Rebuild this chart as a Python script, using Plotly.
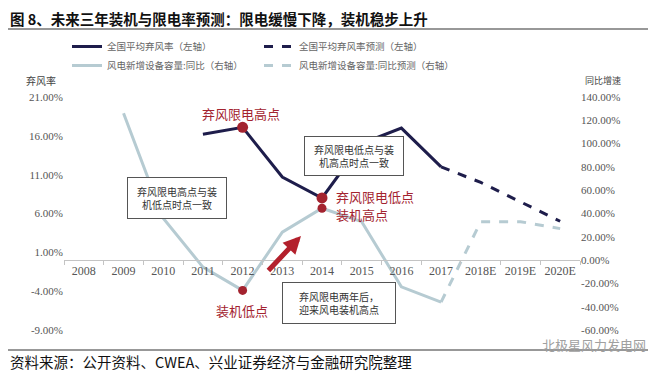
import plotly.graph_objects as go

categories = ['2008', '2009', '2010', '2011', '2012', '2013', '2014', '2015',
              '2016', '2017', '2018E', '2019E', '2020E']
curtail_actual = [None, None, None, 16.2, 17.1, 10.7, 8.0, 15.0, 17.0, 12.0, None, None, None]
curtail_fcst = [None, None, None, None, None, None, None, None, None, 12.0, 10.0, 7.5, 5.0]
growth_actual = [None, 126, 36, -6, -26, 24, 44.5, 33, -23, -36, None, None, None]
growth_fcst = [None, None, None, None, None, None, None, None, None, -36, 33, 33, 27]
left_ticks = [-9, -4, 1, 6, 11, 16, 21]
right_ticks = [-60, -40, -20, 0, 20, 40, 60, 80, 100, 120, 140]
key_years = ['2012', '2014']

# page body has an 8px margin: figure is drawn 8px right/down of window origin
OFF = 8
W, H = 656 - OFF, 375 - OFF
# plot area in window pixel coordinates
L, R, T, B = 64, 580, 97, 330
def px(x):
    return (x - L) / (R - L)
def py(y):
    return (B - y) / (B - T)

DARK = '#1e1d4b'
LIGHT = '#b6cbd2'
RED = '#a3232f'
CJK = 'Noto Sans CJK SC'
SERIF = 'Liberation Serif'

fig = go.Figure()
fig.add_trace(go.Scatter(x=categories, y=curtail_actual, mode='lines', name='全国平均弃风率（左轴）',
                         line=dict(color=DARK, width=3), legend='legend'))
fig.add_trace(go.Scatter(x=categories, y=growth_actual, mode='lines', name='风电新增设备容量:同比（右轴）',
                         line=dict(color=LIGHT, width=3), yaxis='y2', legend='legend'))
fig.add_trace(go.Scatter(x=categories, y=curtail_fcst, mode='lines', name='全国平均弃风率预测（左轴）',
                         line=dict(color=DARK, width=3, dash='dash'), legend='legend2'))
fig.add_trace(go.Scatter(x=categories, y=growth_fcst, mode='lines', name='风电新增设备容量:同比预测（右轴）',
                         line=dict(color=LIGHT, width=3, dash='dash'), yaxis='y2', legend='legend2'))

idx = [categories.index(k) for k in key_years]
fig.add_trace(go.Scatter(x=key_years, y=[curtail_actual[i] for i in idx], mode='markers',
                         marker=dict(color=RED, size=11), showlegend=False))
fig.add_trace(go.Scatter(x=key_years, y=[growth_actual[i] for i in idx], mode='markers',
                         marker=dict(color=RED, size=9), yaxis='y2', showlegend=False))

shapes = [
    dict(type='line', xref='x', yref='paper', x0='2012', x1='2012', y0=py(290), y1=py(128),
         line=dict(color=RED, width=1.5, dash='dash'), layer='below'),
    dict(type='line', xref='x', yref='paper', x0='2014', x1='2014', y0=py(260), y1=py(127),
         line=dict(color=RED, width=1.5, dash='dash'), layer='below'),
    dict(type='line', xref='paper', yref='paper', x0=px(0), x1=px(660), y0=py(29), y1=py(29),
         line=dict(color='#333333', width=1.2)),
    dict(type='line', xref='paper', yref='paper', x0=px(0), x1=px(660), y0=py(350), y1=py(350),
         line=dict(color='#333333', width=1.2)),
]

def txt(x, y, text, size, color, xanchor='center', **kw):
    d = dict(xref='paper', yref='paper', x=px(x), y=py(y), text=text, showarrow=False,
             xanchor=xanchor, yanchor='middle', font=dict(family=CJK, size=size, color=color))
    d.update(kw)
    return d

def box(x, y, w, h, text):
    return txt(x, y, text, 10, '#333333', width=w, height=h, bgcolor='white',
               bordercolor='#555555', borderwidth=1, align='center')

annotations = [
    box(177, 198, 96, 38, '弃风限电高点与装<br>机低点时点一致'),
    box(354, 156, 96, 36, '弃风限电低点与装<br>机高点时点一致'),
    box(339, 303, 110, 38, '弃风限电两年后，<br>迎来风电装机高点'),
    txt(241, 113, '弃风限电高点', 13, RED),
    txt(375, 196, '弃风限电低点', 13, RED),
    txt(362, 214, '装机高点', 13, RED),
    txt(242, 310, '装机低点', 13, RED),
    dict(xref='paper', yref='paper', x=px(301), y=py(236), ax=-34, ay=36, axref='pixel', ayref='pixel',
         text='', showarrow=True, arrowhead=2, arrowsize=0.7, arrowwidth=5, arrowcolor='#b3202c'),
    txt(58, 81, '弃风率', 10, '#444444', xanchor='right'),
    txt(583, 81, '同比增速', 9, '#444444', xanchor='left'),
    txt(8, 18, '<b>图 8、未来三年装机与限电率预测：限电缓慢下降，装机稳步上升</b>', 14.5, '#111111', xanchor='left'),
    txt(8, 361, '资料来源：公开资料、CWEA、兴业证券经济与金融研究院整理', 14.5, '#111111', xanchor='left'),
    txt(648, 344, '北极星风力发电网', 13, '#a0a0a0', xanchor='right'),
]

fig.update_layout(
    width=W, height=H, autosize=False,
    margin=dict(l=L - OFF, r=W - (R - OFF), t=T - OFF, b=H - (B - OFF), autoexpand=False),
    paper_bgcolor='white', plot_bgcolor='white',
    xaxis=dict(type='category', categoryarray=categories, range=[-0.5, 12.5], anchor='free', position=py(260),
               showline=True, linecolor='#c4c4c4', linewidth=1, ticks='outside', tickson='boundaries',
               ticklen=4, tickcolor='#c4c4c4', showgrid=False, tickangle=0,
               tickfont=dict(family=SERIF, size=12, color='#555555')),
    yaxis=dict(range=[-9, 21], tickvals=left_ticks, ticktext=[f'{v:.2f}%' for v in left_ticks],
               showgrid=False, zeroline=False, showline=False,
               tickfont=dict(family=SERIF, size=11, color='#555555')),
    yaxis2=dict(range=[-60, 140], tickvals=right_ticks, ticktext=[f'{v:.2f}%' for v in right_ticks],
                overlaying='y', side='right', showgrid=False, zeroline=False, showline=False,
                tickfont=dict(family=SERIF, size=11, color='#555555')),
    legend=dict(xref='container', yref='container', x=59 / W, y=1 - 24 / H, xanchor='left', yanchor='top',
                font=dict(family=CJK, size=9.5, color='#666666'), bgcolor='rgba(0,0,0,0)', itemwidth=30),
    legend2=dict(xref='container', yref='container', x=251 / W, y=1 - 24 / H, xanchor='left', yanchor='top',
                 font=dict(family=CJK, size=9.5, color='#666666'), bgcolor='rgba(0,0,0,0)', itemwidth=30),
    shapes=shapes, annotations=annotations,
)

fig.write_html('out.html')
